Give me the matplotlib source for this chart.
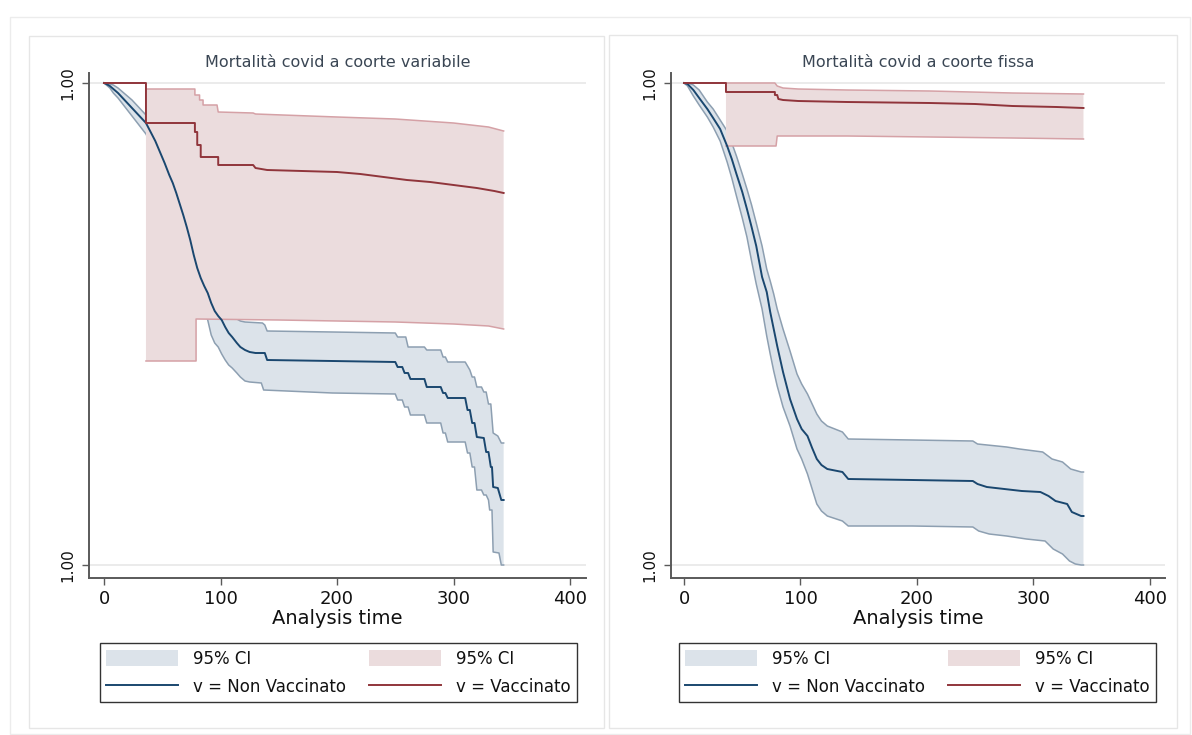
import matplotlib.pyplot as plt
from matplotlib.patches import Rectangle, Patch
from matplotlib.lines import Line2D
from matplotlib.ticker import FormatStrFormatter

plt.rcParams['font.family'] = ['DejaVu Sans']

# --- Coorte variabile -------------------------------------------------------
# Non vaccinato: stima di Kaplan-Meier (nodi tempo / sopravvivenza)
t_var_nv = [0, 2, 5, 8, 12, 16, 20, 24, 28, 32, 36, 40, 44, 48, 52, 56, 59, 62, 65, 68,
            71, 74, 77, 80, 83, 86, 89, 92, 95, 98, 101, 104, 107, 110, 114, 117, 121, 125, 130, 138,
            140, 196, 250, 252, 256, 258, 261, 263, 275, 277, 289, 291, 293, 295, 310, 312, 314, 316, 318, 320,
            326, 328, 330, 332, 333, 334, 338, 341, 343]
s_var_nv = [1.00000, 0.99999, 0.99997, 0.99994, 0.99990, 0.99985, 0.99980, 0.99975, 0.99970, 0.99965,
            0.99960, 0.99951, 0.99942, 0.99931, 0.99920, 0.99908, 0.99900, 0.99890, 0.99879, 0.99868,
            0.99856, 0.99843, 0.99828, 0.99815, 0.99805, 0.99797, 0.99790, 0.99780, 0.99772, 0.99767,
            0.99763, 0.99756, 0.99750, 0.99746, 0.99740, 0.99736, 0.99733, 0.99731, 0.99730, 0.99730,
            0.99723, 0.99722, 0.99721, 0.99716, 0.99716, 0.99710, 0.99710, 0.99704, 0.99704, 0.99696,
            0.99696, 0.99690, 0.99690, 0.99685, 0.99685, 0.99673, 0.99673, 0.99660, 0.99660, 0.99646,
            0.99645, 0.99631, 0.99631, 0.99616, 0.99616, 0.99596, 0.99595, 0.99583, 0.99583]
# limite superiore IC 95%
t_var_nv_hi = [0, 5, 8, 12, 16, 20, 24, 28, 32, 36, 40, 44, 48, 52, 56, 59, 62, 65, 68, 71,
               74, 77, 80, 83, 86, 89, 92, 95, 98, 101, 104, 107, 110, 114, 117, 121, 136, 138, 140, 196,
               250, 252, 259, 261, 275, 277, 289, 291, 293, 295, 310, 314, 316, 318, 320, 324, 326, 328, 330, 332,
               334, 338, 341, 343]
hi_var_nv = [1.00000, 0.99999, 0.99998, 0.99995, 0.99991, 0.99987, 0.99983, 0.99978, 0.99973, 0.99968,
             0.99961, 0.99953, 0.99944, 0.99934, 0.99923, 0.99915, 0.99906, 0.99896, 0.99885, 0.99875,
             0.99863, 0.99850, 0.99837, 0.99825, 0.99815, 0.99807, 0.99799, 0.99791, 0.99785, 0.99780,
             0.99775, 0.99770, 0.99767, 0.99764, 0.99762, 0.99761, 0.99760, 0.99758, 0.99752, 0.99751,
             0.99750, 0.99746, 0.99746, 0.99736, 0.99736, 0.99733, 0.99733, 0.99726, 0.99726, 0.99721,
             0.99721, 0.99713, 0.99706, 0.99706, 0.99696, 0.99696, 0.99691, 0.99691, 0.99679, 0.99679,
             0.99650, 0.99647, 0.99640, 0.99640]
# limite inferiore IC 95%
t_var_nv_lo = [0, 2, 5, 8, 12, 16, 20, 24, 28, 32, 36, 40, 44, 48, 52, 56, 59, 62, 65, 68,
               71, 74, 77, 80, 83, 86, 89, 92, 95, 98, 101, 104, 107, 110, 114, 117, 121, 125, 135, 137,
               196, 250, 252, 256, 258, 261, 263, 275, 277, 289, 291, 293, 295, 310, 312, 314, 316, 318, 320, 324,
               326, 328, 330, 331, 333, 334, 339, 341, 343]
lo_var_nv = [1.00000, 0.99998, 0.99995, 0.99990, 0.99985, 0.99979, 0.99973, 0.99967, 0.99961, 0.99955,
             0.99949, 0.99939, 0.99929, 0.99917, 0.99905, 0.99893, 0.99884, 0.99873, 0.99862, 0.99850,
             0.99837, 0.99823, 0.99808, 0.99793, 0.99783, 0.99773, 0.99763, 0.99748, 0.99740, 0.99736,
             0.99729, 0.99723, 0.99718, 0.99715, 0.99710, 0.99706, 0.99702, 0.99701, 0.99700, 0.99693,
             0.99690, 0.99689, 0.99683, 0.99683, 0.99676, 0.99676, 0.99668, 0.99668, 0.99660, 0.99660,
             0.99650, 0.99650, 0.99641, 0.99641, 0.99630, 0.99630, 0.99616, 0.99616, 0.99593, 0.99593,
             0.99588, 0.99588, 0.99583, 0.99573, 0.99573, 0.99531, 0.99530, 0.99518, 0.99518]

# Vaccinato
t_var_v = [0, 36, 36, 78, 78, 80, 80, 83, 83, 98, 98, 128, 130, 140, 170, 200,
           220, 240, 260, 280, 300, 320, 335, 343]
s_var_v = [1.00000, 1.00000, 0.99960, 0.99960, 0.99951, 0.99951, 0.99938, 0.99938, 0.99926, 0.99926,
           0.99918, 0.99918, 0.99915, 0.99913, 0.99912, 0.99911, 0.99909, 0.99906, 0.99903, 0.99901,
           0.99898, 0.99895, 0.99892, 0.99890]
t_var_v_hi = [36, 78, 78, 82, 82, 85, 85, 97, 98, 128, 130, 200, 250, 300, 330, 343]
hi_var_v = [0.99994, 0.99994, 0.99988, 0.99988, 0.99983, 0.99983, 0.99978, 0.99978, 0.99971, 0.99970,
            0.99969, 0.99966, 0.99964, 0.99960, 0.99956, 0.99952]
t_var_v_lo = [36, 79, 79, 150, 200, 250, 300, 330, 343]
lo_var_v = [0.99722, 0.99722, 0.99764, 0.99763, 0.99762, 0.99761, 0.99759, 0.99757, 0.99754]

# --- Coorte fissa -----------------------------------------------------------
t_fix_nv = [0, 3, 8, 13, 20, 25, 31, 37, 41, 45, 50, 54, 58, 62, 67, 71, 74, 77, 80, 85,
            91, 97, 101, 106, 110, 114, 118, 123, 136, 141, 196, 248, 252, 260, 275, 290, 306, 313, 319, 329,
            333, 341, 343]
s_fix_nv = [1.00000, 0.99999, 0.99993, 0.99985, 0.99974, 0.99965, 0.99954, 0.99937, 0.99924, 0.99909,
            0.99891, 0.99874, 0.99856, 0.99837, 0.99806, 0.99791, 0.99771, 0.99754, 0.99737, 0.99711,
            0.99684, 0.99664, 0.99654, 0.99647, 0.99635, 0.99624, 0.99618, 0.99614, 0.99611, 0.99604,
            0.99603, 0.99602, 0.99599, 0.99596, 0.99594, 0.99592, 0.99591, 0.99587, 0.99582, 0.99579,
            0.99571, 0.99567, 0.99567]
t_fix_nv_hi = [0, 3, 8, 13, 20, 25, 31, 37, 41, 45, 50, 54, 58, 62, 67, 71, 74, 77, 80, 85,
               91, 97, 101, 106, 110, 114, 118, 123, 136, 141, 196, 248, 252, 277, 288, 308, 316, 325, 332, 341,
               343]
hi_fix_nv = [1.00000, 1.00000, 0.99998, 0.99993, 0.99981, 0.99974, 0.99963, 0.99952, 0.99940, 0.99927,
             0.99909, 0.99894, 0.99878, 0.99860, 0.99837, 0.99814, 0.99802, 0.99789, 0.99774, 0.99754,
             0.99732, 0.99709, 0.99699, 0.99689, 0.99679, 0.99669, 0.99662, 0.99657, 0.99651, 0.99644,
             0.99643, 0.99642, 0.99639, 0.99636, 0.99634, 0.99631, 0.99624, 0.99621, 0.99614, 0.99611,
             0.99611]
t_fix_nv_lo = [0, 3, 8, 13, 20, 25, 31, 37, 41, 45, 50, 54, 58, 62, 67, 71, 74, 77, 80, 85,
               91, 97, 101, 106, 110, 114, 118, 123, 136, 141, 196, 248, 253, 262, 277, 294, 310, 317, 325, 331,
               336, 341, 343]
lo_fix_nv = [1.00000, 0.99997, 0.99987, 0.99978, 0.99966, 0.99956, 0.99942, 0.99921, 0.99905, 0.99887,
             0.99865, 0.99846, 0.99822, 0.99799, 0.99774, 0.99747, 0.99729, 0.99712, 0.99697, 0.99676,
             0.99657, 0.99634, 0.99624, 0.99609, 0.99594, 0.99579, 0.99572, 0.99567, 0.99562, 0.99557,
             0.99557, 0.99556, 0.99552, 0.99549, 0.99547, 0.99544, 0.99542, 0.99534, 0.99529, 0.99522,
             0.99519, 0.99518, 0.99518]

t_fix_v = [0, 36, 36, 78, 78, 80, 81, 85, 98, 140, 211, 250, 282, 320, 343]
s_fix_v = [1.00000, 1.00000, 0.99991, 0.99991, 0.99988, 0.99988, 0.99984, 0.99983, 0.99982, 0.99981,
           0.99980, 0.99979, 0.99977, 0.99976, 0.99975]
t_fix_v_hi = [36, 78, 80, 85, 98, 140, 211, 282, 343]
hi_fix_v = [1.00000, 1.00000, 0.99997, 0.99995, 0.99994, 0.99993, 0.99992, 0.99990, 0.99989]
t_fix_v_lo = [36, 79, 80, 140, 211, 282, 343]
lo_fix_v = [0.99937, 0.99937, 0.99947, 0.99947, 0.99946, 0.99945, 0.99944]

y_ticks = [0.99518, 1.0]
x_ticks = [0, 100, 200, 300, 400]

navy = '#1a476f'
maroon = '#90353b'
blue_fill = '#dce3ea'
blue_edge = '#8d9fb1'
red_fill = '#ebdcdd'
red_edge = '#d5a1a6'

W, H = 1192, 735
fig = plt.figure(figsize=(W / 100, H / 100), dpi=100)
fig.patch.set_facecolor('white')


def frame(x0, y0, x1, y1, color):
    fig.add_artist(Rectangle((x0 / W, 1 - y1 / H), (x1 - x0) / W, (y1 - y0) / H,
                             transform=fig.transFigure, fill=False, ec=color, lw=1))


frame(10, 17, 1190, 734, '#ececec')
frame(29, 36, 604, 728, '#e6e6e6')
frame(609, 35, 1177, 728, '#e6e6e6')


def ci_band(ax, t_hi, hi, t_lo, lo, fill, edge, z):
    # area tra i due limiti, poi i bordi superiore e inferiore
    ax.fill(list(t_hi) + list(t_lo)[::-1], list(hi) + list(lo)[::-1],
            color=fill, lw=0, zorder=z)
    ax.plot(t_hi, hi, color=edge, lw=1.1, zorder=z + 1)
    ax.plot(t_lo, lo, color=edge, lw=1.1, zorder=z + 1)


def km_panel(rect, title, nv, v, xlim, leg_x):
    ax = fig.add_axes(rect)
    t, s, t_hi, hi, t_lo, lo = nv
    tv, sv, tv_hi, hiv, tv_lo, lov = v

    ci_band(ax, t_hi, hi, t_lo, lo, blue_fill, blue_edge, 1)
    ci_band(ax, tv_hi, hiv, tv_lo, lov, red_fill, red_edge, 3)
    ax.plot(t, s, color=navy, lw=1.4, zorder=5)
    ax.plot(tv, sv, color=maroon, lw=1.4, zorder=6)

    ax.set_xlim(*xlim)
    ax.set_ylim(0.99505, 1.0001)
    ax.set_xticks(x_ticks)
    ax.set_yticks(y_ticks)
    ax.yaxis.set_major_formatter(FormatStrFormatter('%.2f'))
    ax.yaxis.grid(True, color='#e8e8e8', lw=1.2)
    ax.set_axisbelow(True)

    for side in ('top', 'right'):
        ax.spines[side].set_visible(False)
    for side in ('left', 'bottom'):
        ax.spines[side].set_color('#5a5a5a')
        ax.spines[side].set_linewidth(1.4)
    ax.tick_params(axis='x', direction='out', length=5, width=1, color='#5a5a5a',
                   labelsize=13, pad=4, labelcolor='#111111')
    ax.tick_params(axis='y', direction='out', length=5, width=1, color='#5a5a5a',
                   labelsize=11, pad=5, labelcolor='#111111')
    for lab in ax.get_yticklabels():
        lab.set_rotation(90)
        lab.set_va('center')

    ax.set_xlabel('Analysis time', fontsize=14, labelpad=0, color='#111111')
    ax.set_title(title, fontsize=11.5, color='#3a4654', pad=4)

    handles = [Patch(fc=blue_fill, ec='none'), Line2D([], [], color=navy, lw=1.4),
               Patch(fc=red_fill, ec='none'), Line2D([], [], color=maroon, lw=1.4)]
    labels = ['95% CI', 'v = Non Vaccinato', '95% CI', 'v = Vaccinato']
    leg = ax.legend(handles, labels, ncol=2, loc='center',
                    bbox_to_anchor=(leg_x / W, 1 - 672.5 / H), bbox_transform=fig.transFigure,
                    frameon=True, fancybox=False, edgecolor='black', fontsize=12,
                    handlelength=4.3, handleheight=1.15, handletextpad=0.9,
                    columnspacing=1.4, labelspacing=0.6, borderpad=0.4, borderaxespad=0)
    leg.get_frame().set_linewidth(1.0)
    for txt in leg.get_texts():
        txt.set_color('#111111')
    return ax


km_panel([89 / W, 1 - 578 / H, (586 - 89) / W, (578 - 73) / H],
         'Mortalità covid a coorte variabile',
         (t_var_nv, s_var_nv, t_var_nv_hi, hi_var_nv, t_var_nv_lo, lo_var_nv),
         (t_var_v, s_var_v, t_var_v_hi, hi_var_v, t_var_v_lo, lo_var_v),
         (-12.9, 413.7), 338.5)

km_panel([671 / W, 1 - 578 / H, (1165 - 671) / W, (578 - 73) / H],
         'Mortalità covid a coorte fissa',
         (t_fix_nv, s_fix_nv, t_fix_nv_hi, hi_fix_nv, t_fix_nv_lo, lo_fix_nv),
         (t_fix_v, s_fix_v, t_fix_v_hi, hi_fix_v, t_fix_v_lo, lo_fix_v),
         (-11.2, 413.0), 917.5)

fig.savefig('out.png', dpi=100)
